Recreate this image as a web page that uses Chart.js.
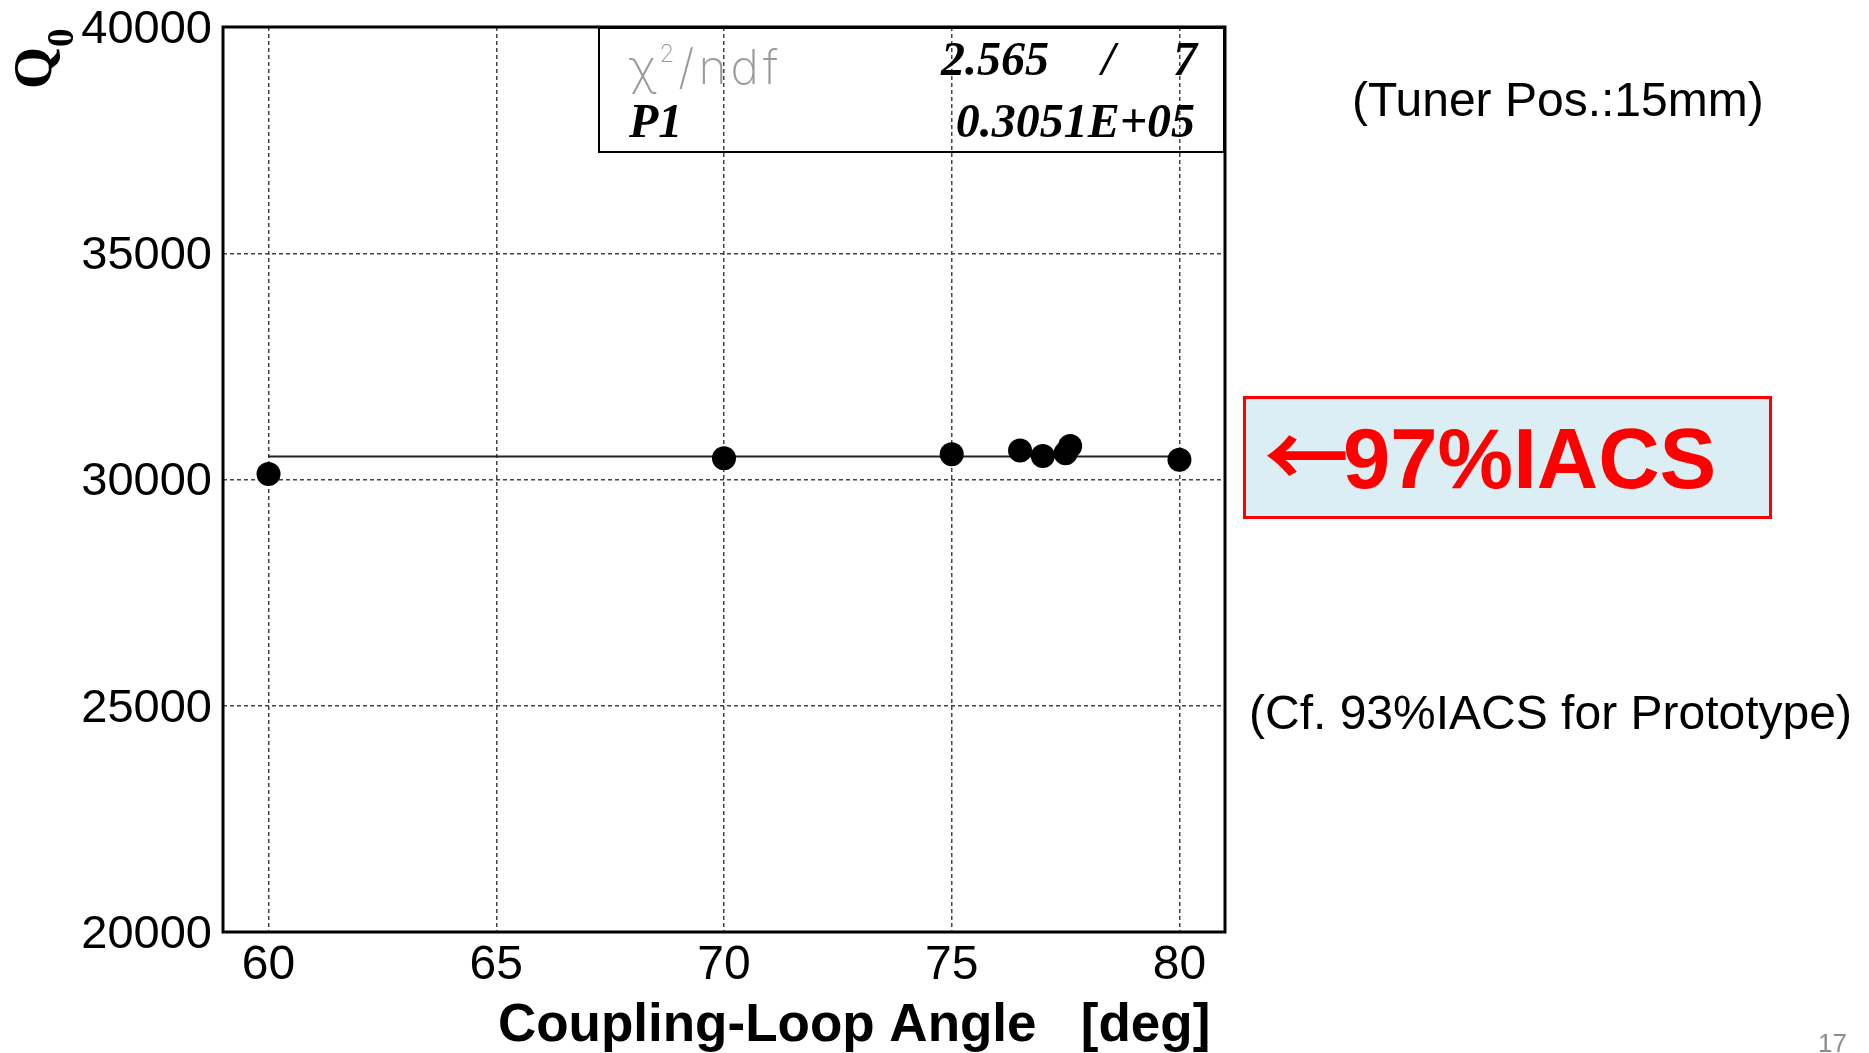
<!DOCTYPE html>
<html><head><meta charset="utf-8">
<script src="https://cdn.jsdelivr.net/npm/chart.js@4.4.1/dist/chart.umd.min.js"></script>
<style>
html,body{margin:0;padding:0;background:#fff;}
#wrap{position:relative;width:1869px;height:1053px;overflow:hidden;background:#fff;}
#c{position:absolute;left:0;top:0;}
.t{position:absolute;white-space:pre;line-height:1;}
.sans{font-family:'Liberation Sans',Arial,Helvetica,sans-serif;}
.serif{font-family:'Liberation Serif','Times New Roman',serif;}
.bi{font-weight:bold;font-style:italic;font-size:48px;color:#000;}
</style></head><body>
<div id="wrap">
<canvas id="c" width="1869" height="1053" style="width:1869px;height:1053px"></canvas>

<!-- y axis title -->
<div class="t serif" style="left:6px;top:89px;font-size:54px;font-weight:bold;transform:rotate(-90deg);transform-origin:0 0;">Q<span style="font-size:37px;position:relative;top:22px;">0</span></div>

<!-- fit statistics box -->
<div style="position:absolute;left:598px;top:27px;width:627px;height:126px;box-sizing:border-box;border:2px solid #000;"></div>
<div class="t" style="left:629px;top:43px;font-family:Inter,'DejaVu Sans',sans-serif;font-weight:200;font-size:48px;letter-spacing:4px;color:#9a9a9a;">χ<sup style="font-size:24px;vertical-align:0;position:relative;top:-22px;">2</sup>/ndf</div>
<div class="t serif bi" style="right:820px;top:35px;">2.565</div>
<div class="t serif bi" style="right:754px;top:35px;">/</div>
<div class="t serif bi" style="right:672px;top:35px;">7</div>
<div class="t serif bi" style="left:629px;top:97px;">P1</div>
<div class="t serif bi" style="right:674px;top:97px;">0.3051E+05</div>

<!-- right annotations -->
<div class="t sans" style="left:1352px;top:76px;font-size:48px;color:#000;">(Tuner Pos.:15mm)</div>
<div style="position:absolute;left:1243px;top:396px;width:529px;height:123px;box-sizing:border-box;border:3px solid #ff0000;background:#daeef3;"></div>
<div class="t sans" style="left:1264px;top:416px;font-size:85px;font-weight:bold;color:#ff0000;"><span style="font-family:'Noto Sans CJK JP',sans-serif;line-height:0;letter-spacing:-6px;">←</span>97%IACS</div>
<div class="t sans" style="left:1249px;top:689px;font-size:48px;color:#000;">(Cf. 93%IACS for Prototype)</div>
<div class="t sans" style="left:1818px;top:1030px;font-size:26px;color:#8c8c8c;">17</div>
</div>

<script>
// ---- data ----
const angles   = [60, 70, 75, 76.5, 77, 77.5, 77.6, 80];
const q0Values = [30120, 30470, 30560, 30640, 30520, 30580, 30740, 30435];
const fitP1    = 30510;
const fitRange = [60, 80];
const xTicks   = [60, 65, 70, 75, 80];
const yTicks   = [20000, 25000, 30000, 35000, 40000];
const xRange   = [59, 81];
const yRange   = [20000, 40000];

const points  = angles.map((a, i) => ({x: a, y: q0Values[i]}));
const fitLine = fitRange.map(a => ({x: a, y: fitP1}));

const SANS = "'Liberation Sans', Arial, Helvetica, sans-serif";

const framePlugin = {
  id: 'frame',
  afterDatasetsDraw(chart) {
    const {ctx, chartArea: a} = chart;
    ctx.save();
    ctx.lineWidth = 3;
    ctx.strokeStyle = '#000';
    ctx.strokeRect(a.left, a.top, a.right - a.left, a.bottom - a.top);
    ctx.restore();
  }
};

new Chart(document.getElementById('c'), {
  type: 'scatter',
  data: {
    datasets: [
      {
        label: 'Q0',
        data: points,
        backgroundColor: '#000',
        borderWidth: 0,
        pointRadius: 12,
        pointHoverRadius: 12
      },
      {
        label: 'fit',
        data: fitLine,
        showLine: true,
        borderColor: '#222',
        borderWidth: 2,
        pointRadius: 0,
        pointHoverRadius: 0
      }
    ]
  },
  options: {
    responsive: false,
    animation: false,
    events: [],
    layout: { padding: { left: 0, top: 27, right: 644, bottom: 0 } },
    plugins: { legend: { display: false }, tooltip: { enabled: false } },
    scales: {
      x: {
        type: 'linear',
        min: xRange[0], max: xRange[1],
        afterBuildTicks: s => { s.ticks = xTicks.map(v => ({value: v})); },
        afterFit: s => { s.height = 121; s.paddingLeft = 0; s.paddingRight = 0; },
        grid: { color: '#444', lineWidth: 1.5, drawTicks: false },
        border: { display: false, dash: [4, 3] },
        ticks: {
          color: '#000', padding: 10, maxRotation: 0, autoSkip: false,
          font: { family: SANS, size: 48, lineHeight: 1 },
          callback: v => String(v)
        },
        title: {
          display: true, text: 'Coupling-Loop Angle   [deg] ', align: 'end', color: '#000',
          font: { family: SANS, size: 53, weight: 'bold', lineHeight: 1 },
          padding: { top: 0, bottom: 0 }
        }
      },
      y: {
        type: 'linear',
        min: yRange[0], max: yRange[1],
        afterBuildTicks: s => { s.ticks = yTicks.map(v => ({value: v})); },
        afterFit: s => { s.width = 223; s.paddingTop = 0; s.paddingBottom = 0; },
        grid: { color: '#444', lineWidth: 1.5, drawTicks: false },
        border: { display: false, dash: [4, 3] },
        ticks: {
          color: '#000', padding: 11, autoSkip: false, labelOffset: 3,
          font: { family: SANS, size: 47, lineHeight: 1 },
          callback: v => String(v)
        },
        title: { display: false }
      }
    }
  },
  plugins: [framePlugin]
});
</script>
</body></html>
